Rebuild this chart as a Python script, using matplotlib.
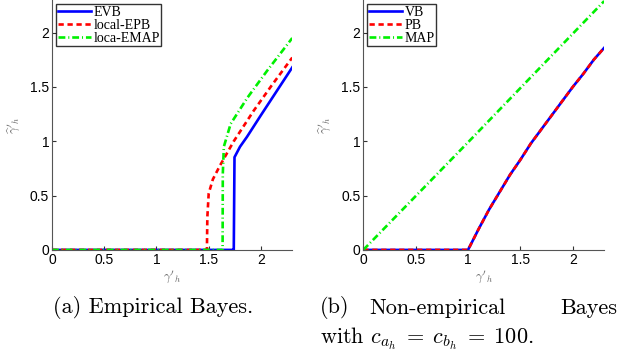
import numpy as np
import matplotlib.pyplot as plt

# (a) empirical Bayes
evb_x = [0, 1.738, 1.740, 1.747, 1.80, 1.866, 2.0, 2.15, 2.30]
evb_y = [0, 0, 0.0, 0.853, 0.95, 1.04, 1.24, 1.46, 1.68]
epb_x = [0, 1.483, 1.487, 1.50, 1.54, 1.61, 1.74, 1.93, 2.10, 2.30]
epb_y = [0, 0, 0.30, 0.52, 0.65, 0.78, 1.00, 1.28, 1.51, 1.77]
emap_x = [0, 1.633, 1.635, 1.645, 1.71, 1.87, 2.06, 2.30]
emap_y = [0, 0, 0.70, 0.95, 1.16, 1.40, 1.65, 1.95]

# (b) non-empirical Bayes
vb_x = [0, 1.0, 1.1, 1.2, 1.3, 1.4, 1.5, 1.6, 1.7, 1.8, 1.9, 2.0, 2.1, 2.2, 2.3]
vb_y = [0, 0, 0.19, 0.37, 0.53, 0.69, 0.83, 0.98, 1.11, 1.24, 1.37, 1.50, 1.62, 1.75, 1.86]
pb_x = vb_x
pb_y = vb_y
map_x = [0, 1.0, 2.3]
map_y = [0, 0.99, 2.29]

ticks = [0, 0.5, 1, 1.5, 2]
tick_labels = ["0", "0.5", "1", "1.5", "2"]

plt.rcParams['mathtext.fontset'] = 'cm'

fig = plt.figure(figsize=(6.34, 3.56), dpi=100)
ax1 = fig.add_axes([0.082, 0.298, 0.379, 0.702])
ax2 = fig.add_axes([0.573, 0.298, 0.380, 0.702])

lw = 1.9
dash = (0, (2.0, 1.4))
dashdot = (0, (2.6, 1.1, 0.4, 1.1))
ax1.plot(evb_x, evb_y, color='#0000ff', lw=lw, label='EVB')
ax1.plot(epb_x, epb_y, color='#ff0000', lw=lw, ls=dash, label='local-EPB')
ax1.plot(emap_x, emap_y, color='#00f000', lw=lw, ls=dashdot, label='loca-EMAP')

ax2.plot(vb_x, vb_y, color='#0000ff', lw=lw, label='VB')
ax2.plot(pb_x, pb_y, color='#ff0000', lw=lw, ls=dash, label='PB')
ax2.plot(map_x, map_y, color='#00f000', lw=lw, ls=dashdot, label='MAP')

for ax in (ax1, ax2):
    ax.set_xlim(0, 2.3)
    ax.set_ylim(0, 2.3)
    ax.set_xticks(ticks)
    ax.set_xticklabels(tick_labels)
    ax.set_yticks(ticks)
    ax.set_yticklabels(tick_labels)
    ax.tick_params(direction='in', length=3, labelsize=10, colors='#333333', pad=2)
    for lab in ax.get_xticklabels() + ax.get_yticklabels():
        lab.set_family('Liberation Sans')
        lab.set_color('black')
    ax.spines['top'].set_visible(False)
    ax.spines['right'].set_visible(False)
    ax.spines['left'].set_color('#555555')
    ax.spines['bottom'].set_color('#555555')
    ax.set_xlabel(r"$\gamma'_h$", fontsize=9, color='#666666', labelpad=1)
    ax.set_ylabel(r"$\widehat{\gamma}'_h$", fontsize=9, color='#666666', labelpad=6)
    leg = ax.legend(loc='upper left', bbox_to_anchor=(0.0, 1.0), prop={'family': 'Liberation Serif', 'size': 10},
                    frameon=True, fancybox=False, edgecolor='black', handlelength=2.4, handletextpad=0.2,
                    borderpad=0.1, labelspacing=0.0, borderaxespad=0.3)
    leg.get_frame().set_linewidth(1.0)

cap = 16
fig.text(0.242, 0.135, "(a) Empirical Bayes.", family='cmr10', fontsize=cap, ha='center', va='center')
fig.text(0.505, 0.135, "(b)", family='cmr10', fontsize=cap, ha='left', va='center')
fig.text(0.582, 0.135, "Non-empirical", family='cmr10', fontsize=cap, ha='left', va='center')
fig.text(0.973, 0.135, "Bayes", family='cmr10', fontsize=cap, ha='right', va='center')
fig.text(0.505, 0.048, r"with $c_{a_h} \;=\; c_{b_h} \;=\; 100$.", family='cmr10', fontsize=cap, ha='left', va='center')

fig.savefig("out.png", dpi=100)
